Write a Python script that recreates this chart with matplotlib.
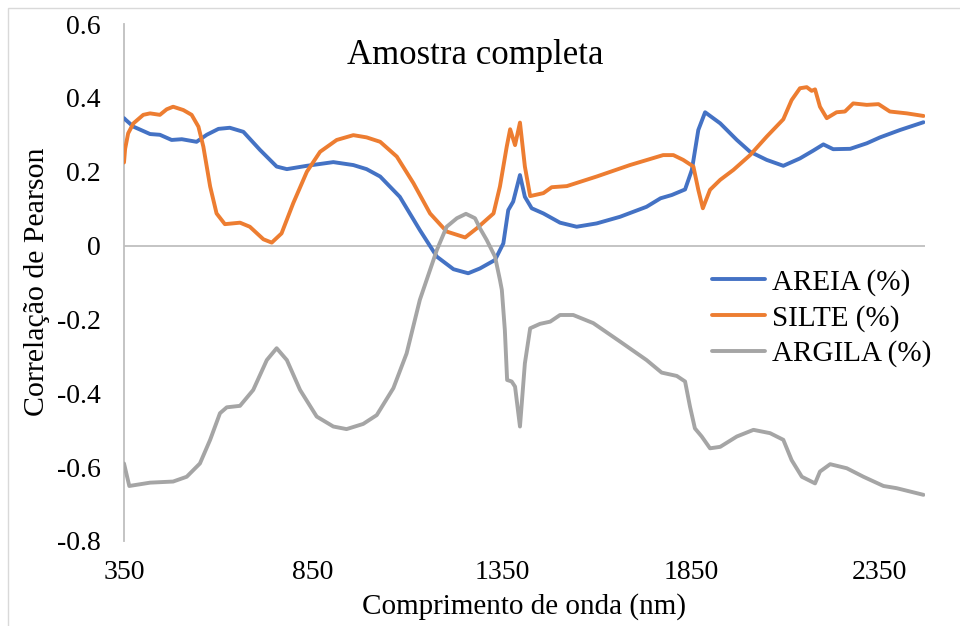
import matplotlib
matplotlib.use("Agg")
import matplotlib.pyplot as plt
from matplotlib.ticker import FixedLocator, FuncFormatter
from matplotlib.patches import Rectangle

plt.rcParams['font.family'] = ['Liberation Serif', 'DejaVu Serif']

# ---- data ----
areia_wl = [350, 355, 375, 419, 445, 476, 503, 542, 569, 600, 630, 666, 710, 754, 781,
            834, 904, 957, 992, 1028, 1045, 1080, 1133, 1178, 1222, 1261, 1292, 1332,
            1354, 1367, 1380, 1398, 1411, 1429, 1460, 1504, 1548, 1601, 1663, 1733,
            1770, 1800, 1835, 1853, 1870, 1888, 1928, 1972, 2007, 2051, 2095, 2139,
            2174, 2201, 2227, 2272, 2316, 2351, 2404, 2466]
areia = [0.345, 0.34, 0.322, 0.302, 0.300, 0.286, 0.288, 0.281, 0.300, 0.316, 0.319, 0.308,
         0.259, 0.214, 0.207, 0.216, 0.226, 0.218, 0.207, 0.187, 0.169, 0.132, 0.042,
         -0.030, -0.064, -0.075, -0.062, -0.039, 0.006, 0.096, 0.119, 0.191, 0.132, 0.101,
         0.087, 0.062, 0.051, 0.060, 0.078, 0.105, 0.128, 0.137, 0.152, 0.205, 0.313,
         0.361, 0.331, 0.286, 0.254, 0.232, 0.216, 0.236, 0.257, 0.274, 0.261, 0.262,
         0.277, 0.293, 0.313, 0.334]

silte_wl = [350, 353, 361, 375, 401, 419, 445, 463, 480, 507, 529, 547, 560, 578, 595,
            617, 657, 683, 719, 741, 767, 798, 834, 869, 913, 957, 992, 1028, 1072,
            1116, 1160, 1204, 1253, 1284, 1328, 1345, 1363, 1372, 1385, 1398, 1411,
            1425, 1460, 1482, 1522, 1601, 1689, 1777, 1804, 1830, 1857, 1870, 1882,
            1901, 1928, 1963, 2007, 2051, 2095, 2117, 2139, 2157, 2170, 2179, 2192,
            2210, 2236, 2258, 2280, 2316, 2347, 2377, 2422, 2466]
silte = [0.225, 0.262, 0.304, 0.331, 0.354, 0.358, 0.354, 0.369, 0.376, 0.367, 0.354,
         0.322, 0.268, 0.160, 0.087, 0.058, 0.062, 0.051, 0.017, 0.008, 0.033, 0.115,
         0.200, 0.254, 0.286, 0.299, 0.293, 0.281, 0.241, 0.169, 0.087, 0.038, 0.022,
         0.047, 0.087, 0.160, 0.268, 0.315, 0.272, 0.333, 0.214, 0.134, 0.142, 0.158,
         0.161, 0.187, 0.218, 0.245, 0.245, 0.232, 0.214, 0.151, 0.101, 0.151, 0.178,
         0.205, 0.245, 0.295, 0.342, 0.394, 0.426, 0.429, 0.419, 0.423, 0.376, 0.345,
         0.361, 0.363, 0.385, 0.381, 0.383, 0.363, 0.358, 0.351]

argila_wl = [350, 364, 419, 480, 516, 551, 578, 604, 622, 657, 692, 728, 754, 781, 816,
             860, 904, 939, 983, 1019, 1063, 1098, 1133, 1151, 1178, 1204, 1231, 1255,
             1279, 1292, 1310, 1332, 1345, 1350, 1358, 1364, 1376, 1385, 1398, 1411,
             1425, 1451, 1478, 1504, 1539, 1592, 1663, 1733, 1773, 1813, 1835, 1848,
             1861, 1879, 1901, 1928, 1972, 2016, 2060, 2095, 2117, 2144, 2179, 2192,
             2219, 2263, 2307, 2360, 2395, 2466]
argila = [-0.590, -0.651, -0.642, -0.639, -0.626, -0.590, -0.526, -0.454, -0.438, -0.434,
          -0.391, -0.310, -0.278, -0.310, -0.391, -0.463, -0.490, -0.497, -0.483, -0.459,
          -0.386, -0.292, -0.147, -0.093, -0.012, 0.051, 0.074, 0.086, 0.074, 0.047,
          0.015, -0.030, -0.093, -0.120, -0.229, -0.364, -0.368, -0.382, -0.490, -0.319,
          -0.224, -0.212, -0.206, -0.188, -0.188, -0.210, -0.260, -0.310, -0.344, -0.353,
          -0.368, -0.436, -0.495, -0.517, -0.549, -0.545, -0.517, -0.499, -0.508, -0.526,
          -0.581, -0.626, -0.644, -0.612, -0.592, -0.603, -0.626, -0.651, -0.657, -0.675]

series_names = ['AREIA (%)', 'SILTE (%)', 'ARGILA (%)']
x_ticks = [350, 850, 1350, 1850, 2350]
y_ticks = [0.6, 0.4, 0.2, 0, -0.2, -0.4, -0.6, -0.8]
title = 'Amostra completa'
x_label = 'Comprimento de onda (nm)'
y_label = 'Correlação de Pearson'

# ---- figure ----
W, H = 960, 626
fig = plt.figure(figsize=(W / 100, H / 100), dpi=100)
ax = fig.add_axes([124 / W, 1 - 541 / H, (925 - 124) / W, (541 - 24) / H])

colors = ['#4472C4', '#ED7D31', '#A5A5A5']
for wl, vals, name, c in zip([areia_wl, silte_wl, argila_wl], [areia, silte, argila],
                             series_names, colors):
    ax.plot(wl, vals, color=c, lw=2.8, label=name, solid_capstyle='round',
            solid_joinstyle='round', zorder=3)

ax.set_xlim(350, 2470)
ax.set_ylim(-0.8, 0.6)
ax.axhline(0, color='#BFBFBF', lw=1.3, zorder=1)

for s in ['top', 'right', 'bottom']:
    ax.spines[s].set_visible(False)
ax.spines['left'].set_color('#BFBFBF')
ax.spines['left'].set_linewidth(1.3)

ax.xaxis.set_major_locator(FixedLocator(x_ticks))
ax.yaxis.set_major_locator(FixedLocator(y_ticks))
ax.yaxis.set_major_formatter(FuncFormatter(lambda v, p: '0' if abs(v) < 1e-9 else f'{v:g}'))
ax.tick_params(axis='both', length=0, labelsize=20)
ax.tick_params(axis='y', pad=17)
ax.tick_params(axis='x', pad=14)

fig.text(524 / W, 1 - 607 / H, x_label, ha='center', va='center', fontsize=21)
fig.text(37 / W, 1 - 282 / H, y_label, ha='center', va='center', rotation=90, fontsize=21.5)
fig.text(475 / W, 1 - 55 / H, title, ha='center', va='center', fontsize=25)

leg = ax.legend(loc='upper left', bbox_to_anchor=(712 / W, 1 - 269 / H),
                bbox_transform=fig.transFigure, frameon=False, fontsize=21,
                handlelength=1.8, handletextpad=0.25, labelspacing=0.3,
                borderpad=0, borderaxespad=0)

fig.patches.append(Rectangle((8 / W, -0.1), 1.2, 1 - 8 / H + 0.1, transform=fig.transFigure,
                             fill=False, edgecolor='#D9D9D9', lw=1.0))

fig.savefig('out.png', dpi=100, facecolor='white')
